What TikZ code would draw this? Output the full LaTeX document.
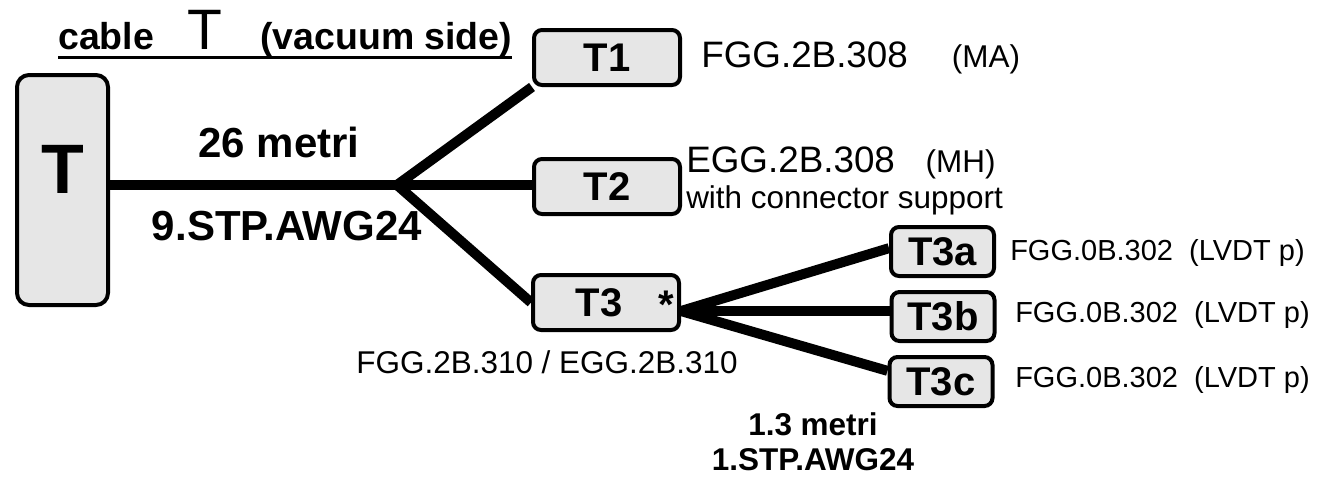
\documentclass[tikz,border=0pt]{standalone}
\usepackage{fontspec}
\setmainfont{Liberation Sans}
\usetikzlibrary{backgrounds}
\definecolor{boxgray}{RGB}{230,230,230}
\newcommand{\fsz}[1]{\fontsize{#1}{#1}\selectfont}
\tikzset{
  box/.style={draw=black, line width=3pt, fill=boxgray, rounded corners=6pt,
    inner sep=0pt, font=\fsz{30pt}\bfseries},
  smallbox/.style={box, minimum width=109.5pt, minimum height=41.25pt},
  subbox/.style={box, minimum width=77.25pt, minimum height=36.75pt},
  cable/.style={line width=7.5pt},
  txt/.style={inner sep=0pt},
}
\begin{document}
\begin{tikzpicture}[x=0.75pt,y=-0.75pt]
\useasboundingbox (0,0) rectangle (1317,479);

% title
\node[txt, anchor=base west, font=\fsz{28.1pt}\bfseries] (titA) at (58,49) {cable};
\node[txt, anchor=base west, font=\fsz{42.75pt}] (titT) at (187,49) {T};
\node[txt, anchor=base west, font=\fsz{28.1pt}\bfseries] (titB) at (260,49) {(vacuum side)};
\draw[line width=2.25pt] ([yshift=-6.4pt]titA.base west) -- ([yshift=-6.4pt]titB.base east);

% boxes
\node[box, minimum width=68.25pt, minimum height=172.5pt, rounded corners=9pt] (T) at (62.5,190) {};
\node[txt, anchor=base, font=\fsz{52.5pt}\bfseries] (Tlbl) at (63,193) {T};
\node[smallbox] (T1) at (607,57.5) {T1};
\node[smallbox] (T2) at (607,186.5) {T2};
\node[smallbox] (T3) at (606,302.5) {\hspace*{-10.5pt}T3};
\node[txt, anchor=base, font=\fsz{30pt}\bfseries] (T3star) at (666.5,318) {*};
\node[subbox] (T3a) at (942.5,251.5) {T3a};
\node[subbox] (T3b) at (943,316.5) {T3b};
\node[subbox] (T3c) at (941,381.5) {T3c};

% connectors
\coordinate (J) at (397,185);
\coordinate (F) at ([yshift=-6.4pt]T3.east);
\begin{pgfonlayer}{background}
\draw[cable] (J -| T.east) -- (J -| T2.west);
\draw[cable] (J) -- (T1.south west);
\draw[cable] (J) -- (T3.west);
\draw[cable] (F) -- ([yshift=2.5pt]T3a.west);
\draw[cable] (F) -- (F -| T3b.west);
\draw[cable] (F) -- ([yshift=8pt]T3c.west);
\end{pgfonlayer}

% labels
\node[txt, anchor=base, font=\fsz{31.5pt}\bfseries] (len1) at (279,157) {26 metri};
\node[txt, anchor=base, font=\fsz{31.5pt}\bfseries] (type1) at (287,240) {9.STP.AWG24};
\node[txt, anchor=base west, font=\fsz{27.6pt}] (T1lab) at (701,67) {FGG.2B.308\hspace{33pt}{\fsz{23.6pt}(MA)}};
\node[txt, anchor=base west, font=\fsz{27.6pt}] (T2lab) at (686,172) {EGG.2B.308\hspace{23pt}{\fsz{23.6pt}(MH)}};
\node[txt, anchor=base west, font=\fsz{23.6pt}] (T2lab2) at (686,208) {with connector support};
\node[txt, anchor=base, font=\fsz{23.6pt}] (T3lab) at (547,373) {FGG.2B.310 / EGG.2B.310};
\node[txt, anchor=base west, font=\fsz{21.75pt}] (T3alab) at (1010,260) {FGG.0B.302\ \ (LVDT p)};
\node[txt, anchor=base west, font=\fsz{21.75pt}] (T3blab) at (1015,322) {FGG.0B.302\ \ (LVDT p)};
\node[txt, anchor=base west, font=\fsz{21.75pt}] (T3clab) at (1015,387) {FGG.0B.302\ \ (LVDT p)};
\node[txt, anchor=base, font=\fsz{23.6pt}\bfseries] (len2) at (813,435) {1.3 metri};
\node[txt, anchor=base, font=\fsz{23.6pt}\bfseries] (type2) at (813,470) {1.STP.AWG24};
\end{tikzpicture}
\end{document}
